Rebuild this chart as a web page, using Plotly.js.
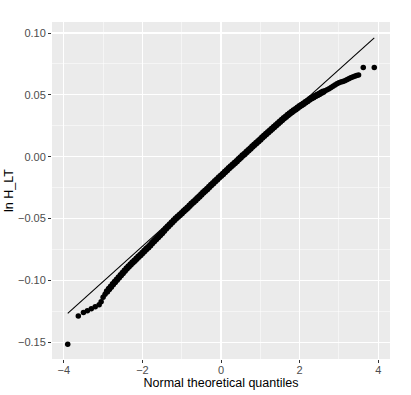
<!DOCTYPE html>
<html>
<head>
<meta charset="utf-8">
<script src="https://cdn.plot.ly/plotly-3.0.1.min.js"></script>
<style>html,body{margin:0;padding:0;background:#fff;}#chart{width:411px;height:395px;}</style>
</head>
<body>
<div id="chart"></div>
<script>
// Theoretical quantiles (x) and sample quantiles of ln H_LT (y)
var theoQ = [-3.90, -3.63, -3.50, -3.40, -3.30, -3.20, -3.10, -3.05, -3.00, -2.95, -2.90, -2.85, -2.80, -2.75, -2.70, -2.65, -2.60, -2.55, -2.50, -2.45, -2.40, -2.35, -2.30, -2.25, -2.20, -2.15, -2.10, -2.05, -2.00, -1.95, -1.90, -1.85, -1.80, -1.75, -1.70, -1.65, -1.60, -1.55, -1.50, -1.45, -1.40, -1.35, -1.30, -1.25, -1.20, -1.15, -1.10, -1.05, -1.00, -0.95, -0.90, -0.85, -0.80, -0.75, -0.70, -0.65, -0.60, -0.55, -0.50, -0.45, -0.40, -0.35, -0.30, -0.25, -0.20, -0.15, -0.10, -0.05, 0.00, 0.05, 0.10, 0.15, 0.20, 0.25, 0.30, 0.35, 0.40, 0.45, 0.50, 0.55, 0.60, 0.65, 0.70, 0.75, 0.80, 0.85, 0.90, 0.95, 1.00, 1.05, 1.10, 1.15, 1.20, 1.25, 1.30, 1.35, 1.40, 1.45, 1.50, 1.55, 1.60, 1.65, 1.70, 1.75, 1.80, 1.85, 1.90, 1.95, 2.00, 2.05, 2.10, 2.15, 2.20, 2.25, 2.30, 2.35, 2.40, 2.45, 2.50, 2.55, 2.60, 2.65, 2.70, 2.75, 2.80, 2.85, 2.90, 2.95, 3.00, 3.05, 3.10, 3.15, 3.20, 3.25, 3.30, 3.35, 3.40, 3.45, 3.50, 3.62, 3.90];
var sampleQ = [-0.1516, -0.1287, -0.1260, -0.1245, -0.1228, -0.1212, -0.1196, -0.1172, -0.1135, -0.1112, -0.1090, -0.1070, -0.1050, -0.1031, -0.1012, -0.0994, -0.0976, -0.0958, -0.0940, -0.0921, -0.0904, -0.0888, -0.0871, -0.0855, -0.0840, -0.0824, -0.0809, -0.0794, -0.0779, -0.0762, -0.0746, -0.0731, -0.0715, -0.0698, -0.0682, -0.0666, -0.0649, -0.0632, -0.0616, -0.0599, -0.0580, -0.0563, -0.0547, -0.0532, -0.0515, -0.0500, -0.0486, -0.0471, -0.0456, -0.0441, -0.0427, -0.0412, -0.0396, -0.0381, -0.0366, -0.0351, -0.0336, -0.0321, -0.0306, -0.0290, -0.0275, -0.0260, -0.0245, -0.0229, -0.0214, -0.0199, -0.0184, -0.0168, -0.0153, -0.0139, -0.0123, -0.0109, -0.0094, -0.0080, -0.0065, -0.0050, -0.0036, -0.0021, -0.0006, 0.0009, 0.0023, 0.0038, 0.0053, 0.0067, 0.0082, 0.0097, 0.0111, 0.0126, 0.0140, 0.0155, 0.0169, 0.0183, 0.0197, 0.0212, 0.0226, 0.0240, 0.0254, 0.0268, 0.0282, 0.0296, 0.0310, 0.0324, 0.0337, 0.0350, 0.0362, 0.0373, 0.0384, 0.0396, 0.0407, 0.0418, 0.0429, 0.0440, 0.0451, 0.0462, 0.0472, 0.0481, 0.0490, 0.0499, 0.0508, 0.0517, 0.0525, 0.0533, 0.0541, 0.0550, 0.0559, 0.0569, 0.0580, 0.0590, 0.0598, 0.0604, 0.0609, 0.0615, 0.0622, 0.0630, 0.0638, 0.0644, 0.0650, 0.0656, 0.0661, 0.0722, 0.0722];
// Reference (qq) line end points
var lineX = [-3.90, 3.90];
var lineY = [-0.1266, 0.0960];
// Axis ticks
var xTicks = [-4, -2, 0, 2, 4];
var xTickText = ['\u22124', '\u22122', '0', '2', '4'];
var yTicks = [-0.15, -0.10, -0.05, 0.00, 0.05, 0.10];
var yTickText = ['\u22120.15', '\u22120.10', '\u22120.05', '0.00', '0.05', '0.10'];

var font = 'Liberation Sans, Arial, Helvetica, sans-serif';
// dense central part of the sample is drawn a bit heavier (overlapping points)
var bodyX = [], bodyY = [];
theoQ.forEach(function (q, i) { if (q >= -2.9 && q <= 2.6) { bodyX.push(q); bodyY.push(sampleQ[i]); } });

var traces = [
  {x: bodyX, y: bodyY, type: 'scatter', mode: 'markers',
   marker: {color: '#000000', size: 6.5, line: {width: 0}}, hoverinfo: 'skip', showlegend: false},
  {x: theoQ, y: sampleQ, type: 'scatter', mode: 'markers',
   marker: {color: '#000000', size: 5.5, line: {width: 0}}, hoverinfo: 'x+y', showlegend: false},
  {x: lineX, y: lineY, type: 'scatter', mode: 'lines',
   line: {color: '#000000', width: 1.1}, hoverinfo: 'none', showlegend: false}
];
var axisCommon = {
  showline: false, zeroline: false,
  showgrid: true, gridcolor: '#FFFFFF', gridwidth: 1.1,
  ticks: 'outside', ticklen: 3, tickwidth: 1, tickcolor: '#333333',
  tickfont: {family: font, size: 11, color: '#4D4D4D'},
  automargin: false
};
var layout = {
  width: 411, height: 395,
  margin: {l: 52, r: 21, t: 22, b: 36, pad: 0},
  paper_bgcolor: '#FFFFFF', plot_bgcolor: '#EBEBEB',
  showlegend: false,
  xaxis: Object.assign({}, axisCommon, {
    range: [-4.30, 4.30], tickmode: 'array', tickvals: xTicks, ticktext: xTickText,
    ticklabelstandoff: -2,
    minor: {showgrid: true, gridcolor: '#FFFFFF', gridwidth: 0.5, dtick: 1, tick0: 0, ticks: ''},
    title: {text: 'Normal theoretical quantiles', font: {family: font, size: 12.5, color: '#000000'}, standoff: 0}
  }),
  yaxis: Object.assign({}, axisCommon, {
    range: [-0.1635, 0.1089], tickmode: 'array', tickvals: yTicks, ticktext: yTickText,
    minor: {showgrid: true, gridcolor: '#FFFFFF', gridwidth: 0.5, dtick: 0.025, tick0: 0, ticks: ''},
    title: {text: 'ln H_LT', font: {family: font, size: 12.5, color: '#000000'}, standoff: 1}
  })
};
Plotly.newPlot('chart', traces, layout, {displayModeBar: false, staticPlot: true});
</script>
</body>
</html>
